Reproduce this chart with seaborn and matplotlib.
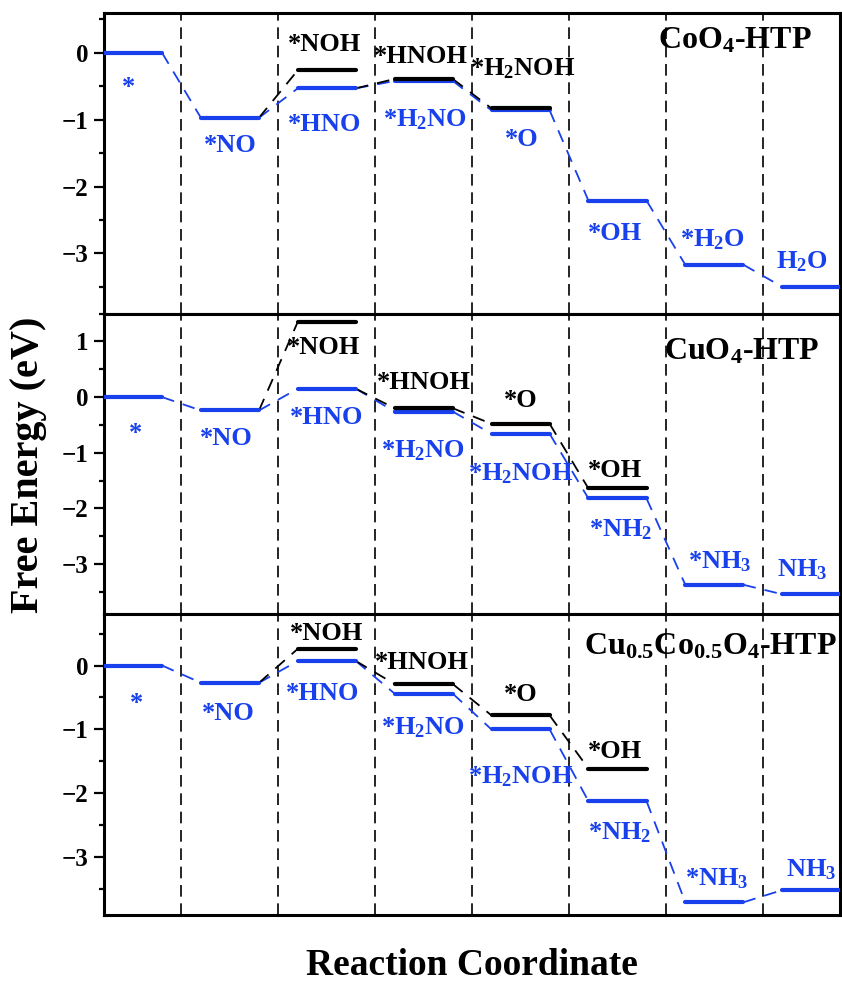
import numpy as np
import pandas as pd
import matplotlib
matplotlib.use('Agg')
import matplotlib.pyplot as plt
from matplotlib.ticker import MultipleLocator
import seaborn as sns

## free energy data (eV), one value per reaction step, nan = no state
titles = ['CoO$_4$-HTP', 'CuO$_4$-HTP', 'Cu$_{0.5}$Co$_{0.5}$O$_4$-HTP']

blue_G = [[0, -0.97, -0.53, -0.42, -0.86, -2.21, -3.17, -3.50],
          [0, -0.24, 0.15, -0.26, -0.66, -1.82, -3.37, -3.54],
          [0, -0.27, 0.07, -0.44, -1.00, -2.12, -3.70, -3.51]]
black_G = [[np.nan, np.nan, -0.26, -0.39, -0.83, np.nan, np.nan, np.nan],
           [np.nan, np.nan, 1.35, -0.20, -0.48, -1.64, np.nan, np.nan],
           [np.nan, np.nan, 0.26, -0.29, -0.78, -1.61, np.nan, np.nan]]

blue_lab = [['*', '*NO', '*HNO', '*H$_2$NO', '*O', '*OH', '*H$_2$O', 'H$_2$O'],
            ['*', '*NO', '*HNO', '*H$_2$NO', '*H$_2$NOH', '*NH$_2$', '*NH$_3$', 'NH$_3$'],
            ['*', '*NO', '*HNO', '*H$_2$NO', '*H$_2$NOH', '*NH$_2$', '*NH$_3$', 'NH$_3$']]
black_lab = [[None, None, '*NOH', '*HNOH', '*H$_2$NOH', None, None, None],
             [None, None, '*NOH', '*HNOH', '*O', '*OH', None, None],
             [None, None, '*NOH', '*HNOH', '*O', '*OH', None, None]]

## black branch: step i -> black state i+1, starting from blue ('b') or black ('k') state i
black_links = [[(1, 'b'), (2, 'b'), (3, 'k')],
               [(1, 'b'), (2, 'b'), (3, 'k'), (4, 'k')],
               [(1, 'b'), (2, 'b'), (3, 'k'), (4, 'k')]]

ylims = [(-3.9, 0.6), (-3.9, 1.5), (-3.9, 0.8)]
yticks = [[-3, -2, -1, 0], [-3, -2, -1, 0, 1], [-3, -2, -1, 0]]

## label placement (pixel offsets from level centre: dx, baseline dy)
blue_off = [[(-5, -41), (0, -34), (-2, -43), (1, -45), (1, -36), (-2, -39), (-2, 18), (-9, 18)],
            [(2, -43), (-4, -35), (0, -35), (-1, -46), (0, -47), (3, -38), (5, 16), (-9, 18)],
            [(3, -44), (-2, -37), (-4, -39), (-1, -41), (0, -54), (2, -38), (2, 17), (0, 14)]]
black_off = [[None, None, (-2, 19), (-3, 16), (2, 33), None, None, None],
             [None, None, (-3, -32), (0, 19), (0, 17), (-2, 11), None, None],
             [None, None, (0, 9), (-2, 15), (0, 14), (-2, 11), None, None]]
title_pos = [(0.857, 0.880), (0.866, 0.847), (0.823, 0.867)]

BLUE = '#1840ec'
W = 0.6   # level width
sns.set_theme(style='ticks')
plt.rcParams['font.family'] = ['Liberation Serif', 'DejaVu Serif']
plt.rcParams['font.weight'] = 'bold'
plt.rcParams['mathtext.default'] = 'regular'
plt.rcParams['axes.unicode_minus'] = True
plt.rcParams['text.color'] = 'black'
plt.rcParams['axes.labelcolor'] = 'black'
plt.rcParams['xtick.color'] = 'black'
plt.rcParams['ytick.color'] = 'black'

fig = plt.figure(figsize=(8.42, 9.85), dpi=100)
fig.subplots_adjust(left=0.1235, right=0.998, top=0.987, bottom=0.071, hspace=0)
axes = fig.subplots(3, 1, sharex=True)

px = 0.72  # points per pixel

for p, ax in enumerate(axes):
    # dividers
    for i in range(7):
        ax.axvline(i + 0.8, color='black', lw=1.2, ls=(0, (7, 4)), zorder=1)

    # connectors
    bg = blue_G[p]
    kg = black_G[p]
    for i in range(7):
        ax.plot([i + W, i + 1], [bg[i], bg[i + 1]], color=BLUE, lw=1.3,
                ls=(0, (7, 5)), zorder=2)
    for i, src in black_links[p]:
        g0 = bg[i] if src == 'b' else kg[i]
        ax.plot([i + W, i + 1], [g0, kg[i + 1]], color='black', lw=1.3,
                ls=(0, (7, 5)), zorder=2)

    # levels
    rows_b, rows_k = [], []
    for i in range(8):
        rows_b += [(i, bg[i], i), (i + W, bg[i], i)]
        if not np.isnan(kg[i]):
            rows_k += [(i, kg[i], i), (i + W, kg[i], i)]
    df_b = pd.DataFrame(rows_b, columns=['x', 'G', 'seg'])
    df_k = pd.DataFrame(rows_k, columns=['x', 'G', 'seg'])
    sns.lineplot(data=df_b, x='x', y='G', units='seg', estimator=None, sort=False,
                 color=BLUE, lw=3, ax=ax, legend=False, zorder=3)
    sns.lineplot(data=df_k, x='x', y='G', units='seg', estimator=None, sort=False,
                 color='black', lw=3, ax=ax, legend=False, zorder=4)

    # labels
    for i in range(8):
        dx, dy = blue_off[p][i]
        ax.annotate(blue_lab[p][i], (i + W / 2, bg[i]), xytext=(dx * px, dy * px),
                    textcoords='offset points', ha='center', va='baseline',
                    color=BLUE, fontsize=19, fontweight='bold', zorder=5)
        if black_lab[p][i] is not None:
            dx, dy = black_off[p][i]
            ax.annotate(black_lab[p][i], (i + W / 2, kg[i]), xytext=(dx * px, dy * px),
                        textcoords='offset points', ha='center', va='baseline',
                        color='black', fontsize=19, fontweight='bold', zorder=5)
    ax.text(title_pos[p][0], title_pos[p][1], titles[p], transform=ax.transAxes,
            ha='center', va='baseline', fontsize=23, fontweight='bold', color='black')

    ax.set_xlim(0, 7.6)
    ax.set_ylim(*ylims[p])
    ax.set_yticks(yticks[p])
    ax.yaxis.set_minor_locator(MultipleLocator(0.5))
    ax.tick_params(axis='y', which='major', direction='out', length=7, width=1.6,
                   labelsize=18, pad=4, color='black', labelcolor='black')
    ax.tick_params(axis='y', which='minor', direction='out', length=3.5, width=1.6,
                   color='black')
    ax.tick_params(axis='x', which='both', bottom=False, labelbottom=False)
    for lab in ax.get_yticklabels():
        lab.set_fontweight('bold')
    for s in ax.spines.values():
        s.set_visible(True)
        s.set_linewidth(2.2)
        s.set_color('black')
    ax.set_xlabel('')
    ax.set_ylabel('')

fig.text(29 / 842, 1 - 465 / 985, 'Free Energy (eV)', rotation=90, ha='center',
         va='center', fontsize=29, fontweight='bold', color='black')
fig.text(472 / 842, 1 - 975 / 985, 'Reaction Coordinate', ha='center',
         va='baseline', fontsize=27, fontweight='bold', color='black')

fig.savefig('out.png', dpi=100)
